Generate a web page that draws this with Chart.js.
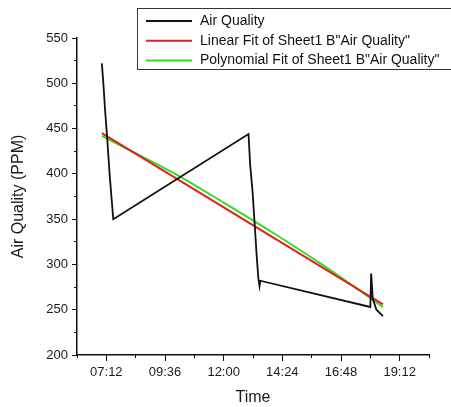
<!DOCTYPE html>
<html>
<head>
<meta charset="utf-8">
<script src="https://cdn.jsdelivr.net/npm/chart.js@4.4.1/dist/chart.umd.min.js"></script>
<style>
  html, body { margin: 0; padding: 0; background: #fff; }
  #wrap { width: 451px; height: 407px; }
</style>
</head>
<body>
<div id="wrap"><canvas id="aqChart" width="451" height="407"></canvas></div>
<script>
// Measured air quality (time of day, PPM)
const aqTimes = ['07:01', '07:05', '07:09', '07:14', '07:20', '07:29', '13:01', '13:05', '13:11', '13:16', '13:21', '13:25', '13:28', '13:30', '18:00', '18:02', '18:06', '18:15', '18:31'];
const aqValues = [522, 498, 470, 440, 400, 350, 444, 410, 380, 345, 310, 285, 276, 282, 253, 290, 262, 250, 243];

// Linear fit
const linearTimes = ['07:01', '18:31'];
const linearValues = [445, 256];

// Polynomial fit
const polyTimes = ['07:01', '08:01', '10:01', '12:01', '14:01', '16:01', '18:31'];
const polyValues = [442, 428, 400, 368, 335, 300, 253];

// Axis ticks
const xTickLabels = ['07:12', '09:36', '12:00', '14:24', '16:48', '19:12'];
const xMinorTicks = ['06:00', '07:12', '08:24', '09:36', '10:48', '12:00', '13:12', '14:24', '15:36', '16:48', '18:00', '19:12', '20:24'];
const yTicks = [200, 250, 300, 350, 400, 450, 500, 550];
const yMinorTicks = [200, 225, 250, 275, 300, 325, 350, 375, 400, 425, 450, 475, 500, 525, 550];

const labels = ['Air Quality', 'Linear Fit of Sheet1 B"Air Quality"', 'Polynomial Fit of Sheet1 B"Air Quality"'];
const colors = ['#111111', '#dd2222', '#33dd22'];

const toHours = (t) => {
    const [h, m] = t.split(':').map(Number);
    return h + m / 60;
};
const toClock = (v) => {
    let h = Math.floor(v + 1e-6);
    let m = Math.round((v - h) * 60);
    if (m === 60) { h += 1; m = 0; }
    return String(h).padStart(2, '0') + ':' + String(m).padStart(2, '0');
};
const toPoints = (times, values) => times.map((t, i) => ({ x: toHours(t), y: values[i] }));

const font = 'Liberation Sans, Arial, sans-serif';

// Legend box in the top right, like the Origin plot
const boxLegend = {
    id: 'boxLegend',
    afterDraw(chart) {
        const ctx = chart.ctx;
        ctx.save();
        ctx.strokeStyle = '#333';
        ctx.lineWidth = 1;
        ctx.strokeRect(137.5, 8.5, 400, 61);
        ctx.font = '14px ' + font;
        ctx.textBaseline = 'middle';
        ctx.fillStyle = '#111';
        chart.data.datasets.forEach((ds, i) => {
            const y = 21 + i * 19.75;
            ctx.strokeStyle = ds.borderColor;
            ctx.lineWidth = 2;
            ctx.beginPath();
            ctx.moveTo(146, y);
            ctx.lineTo(192, y);
            ctx.stroke();
            ctx.fillText(ds.label, 200, y);
        });
        ctx.restore();
    }
};

const ctx = document.getElementById('aqChart').getContext('2d');
const aqChart = new Chart(ctx, {
    type: 'line',
    data: {
        datasets: [
            {
                label: labels[0],
                data: toPoints(aqTimes, aqValues),
                borderColor: colors[0],
                borderWidth: 1.8,
                pointRadius: 0,
                tension: 0
            },
            {
                label: labels[1],
                data: toPoints(linearTimes, linearValues),
                borderColor: colors[1],
                borderWidth: 2,
                pointRadius: 0
            },
            {
                label: labels[2],
                data: toPoints(polyTimes, polyValues),
                borderColor: colors[2],
                borderWidth: 2,
                pointRadius: 0,
                cubicInterpolationMode: 'monotone'
            }
        ]
    },
    options: {
        responsive: false,
        animation: false,
        devicePixelRatio: 1,
        layout: { padding: { top: 38, right: 22, left: 0, bottom: 0 } },
        plugins: {
            legend: { display: false },
            tooltip: { enabled: false }
        },
        scales: {
            x: {
                type: 'linear',
                min: 6,
                max: 20.4,
                afterFit: (scale) => { scale.height = 52; },
                afterBuildTicks: (scale) => {
                    scale.ticks = xTickLabels.map(t => ({ value: toHours(t) }));
                },
                ticks: {
                    callback: (v) => toClock(v),
                    color: '#1a1a1a',
                    font: { family: font, size: 13 },
                    padding: 4,
                    maxRotation: 0
                },
                grid: { drawOnChartArea: false, tickLength: 6, tickColor: '#111', tickWidth: 1 },
                border: { color: '#111', width: 1.5 },
                title: {
                    display: true,
                    text: 'Time',
                    color: '#1a1a1a',
                    font: { family: font, size: 16 },
                    padding: { top: 4, bottom: 0 }
                }
            },
            xMinor: {
                type: 'linear',
                position: 'bottom',
                weight: -1,
                min: 6,
                max: 20.4,
                afterFit: (scale) => { scale.height = 0; },
                afterBuildTicks: (scale) => {
                    scale.ticks = xMinorTicks.map(t => ({ value: toHours(t) }));
                },
                ticks: { display: false },
                grid: { drawOnChartArea: false, tickLength: 3, tickColor: '#111', tickWidth: 1 },
                border: { display: false }
            },
            y: {
                min: 200,
                max: 550,
                afterFit: (scale) => { scale.width = 77; },
                afterBuildTicks: (scale) => {
                    scale.ticks = yTicks.map(v => ({ value: v }));
                },
                ticks: {
                    color: '#1a1a1a',
                    font: { family: font, size: 13 },
                    padding: 4
                },
                grid: { drawOnChartArea: false, tickLength: 5, tickColor: '#111', tickWidth: 1 },
                border: { color: '#111', width: 1.5 },
                title: {
                    display: true,
                    text: 'Air Quality (PPM)',
                    color: '#1a1a1a',
                    font: { family: font, size: 16 },
                    padding: { top: 9, bottom: 0 }
                }
            },
            yMinor: {
                position: 'left',
                weight: -1,
                min: 200,
                max: 550,
                afterFit: (scale) => { scale.width = 0; },
                afterBuildTicks: (scale) => {
                    scale.ticks = yMinorTicks.map(v => ({ value: v }));
                },
                ticks: { display: false },
                grid: { drawOnChartArea: false, tickLength: 3, tickColor: '#111', tickWidth: 1 },
                border: { display: false }
            }
        }
    },
    plugins: [boxLegend]
});
</script>
</body>
</html>
